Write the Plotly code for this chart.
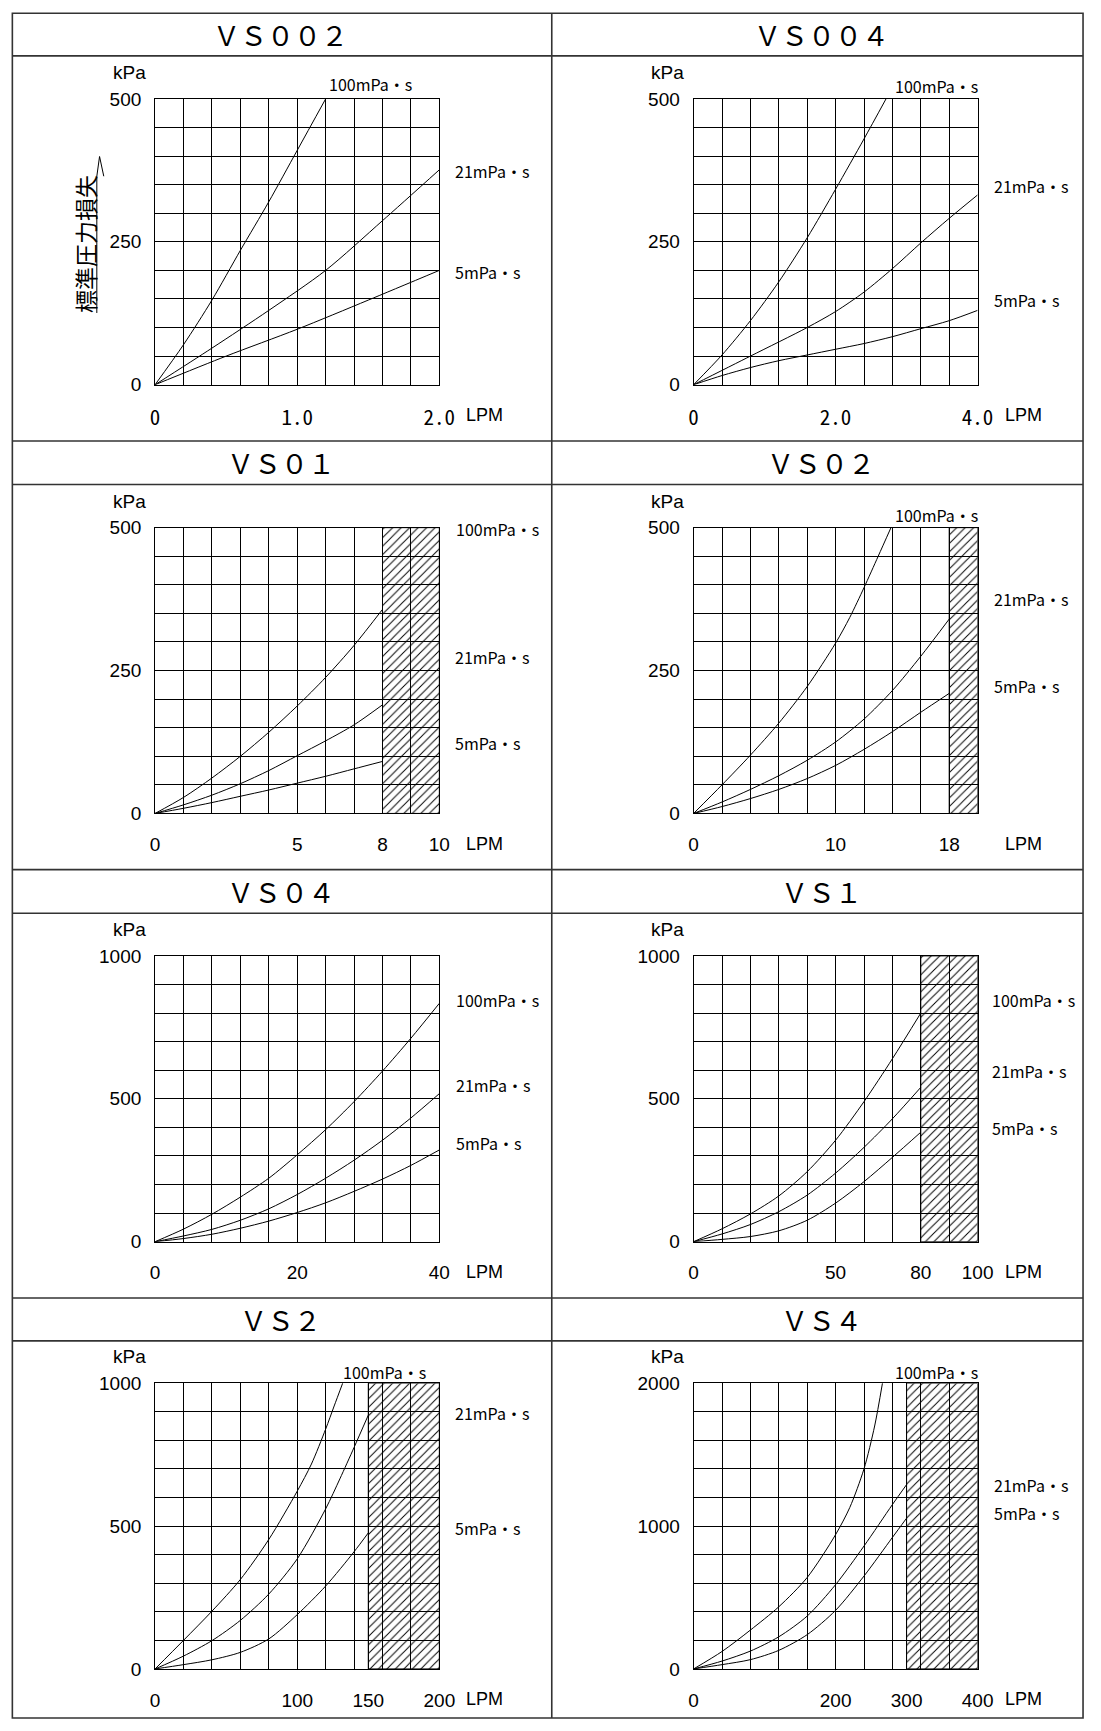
import plotly.graph_objects as go

W, H = 1101, 1731

# ---------------- data ----------------
titles = ["ＶＳ００２", "ＶＳ００４", "ＶＳ０１", "ＶＳ０２",
          "ＶＳ０４", "ＶＳ１", "ＶＳ２", "ＶＳ４"]
viscosity_labels = ["100mPa・s", "21mPa・s", "5mPa・s"]

x_max = [2.0, 4.0, 10, 20, 40, 100, 200, 400]
y_max = [500, 500, 500, 500, 1000, 1000, 1000, 2000]
x_tickvals = [[0, 1, 2], [0, 2, 4], [0, 5, 8, 10], [0, 10, 18],
              [0, 20, 40], [0, 50, 80, 100], [0, 100, 150, 200], [0, 200, 300, 400]]
x_ticktext = [["0", "1.0", "2.0"], ["0", "2.0", "4.0"], ["0", "5", "8", "10"], ["0", "10", "18"],
              ["0", "20", "40"], ["0", "50", "80", "100"], ["0", "100", "150", "200"],
              ["0", "200", "300", "400"]]
y_tickvals = [[0, 250, 500], [0, 250, 500], [0, 250, 500], [0, 250, 500],
              [0, 500, 1000], [0, 500, 1000], [0, 500, 1000], [0, 1000, 2000]]
hatch_from = [None, None, 8, 18, None, 80, 150, 300]

# VS002
vs002_q100 = [0, 0.2, 0.4, 0.6, 0.8, 1.0, 1.2]
vs002_p100 = [0, 70, 148, 235, 320, 410, 500]
vs002_q21 = [0, 0.4, 0.8, 1.2, 1.6, 2.0]
vs002_p21 = [0, 64, 130, 200, 287, 376]
vs002_q5 = [0, 0.5, 1.0, 1.5, 2.0]
vs002_p5 = [0, 50, 97, 148, 200]
# VS004
vs004_q100 = [0, 0.4, 0.8, 1.2, 1.6, 2.0, 2.4, 2.71]
vs004_p100 = [0, 52, 112, 180, 257, 342, 430, 500]
vs004_q21 = [0, 0.8, 1.6, 2.0, 2.4, 2.8, 3.2, 3.6, 4.0]
vs004_p21 = [0, 50, 100, 128, 162, 203, 248, 291, 332]
vs004_q5 = [0, 0.4, 0.8, 1.2, 1.6, 2.0, 2.4, 2.8, 3.2, 3.6, 4.0]
vs004_p5 = [0, 16, 30, 42, 52, 62, 72, 84, 98, 112, 130]
# VS01
vs01_q = [0, 1, 2, 3, 4, 5, 6, 7, 8]
vs01_p100 = [0, 28, 62, 100, 142, 188, 238, 294, 357]
vs01_p21 = [0, 15, 32, 52, 75, 101, 127, 155, 190]
vs01_p5 = [0, 9, 19, 30, 41, 53, 65, 78, 91]
# VS02
vs02_q100 = [0, 2, 4, 6, 8, 10, 11, 12, 13, 13.9]
vs02_p100 = [0, 50, 102, 158, 222, 298, 343, 395, 450, 500]
vs02_q = [0, 2, 4, 6, 8, 10, 12, 14, 16, 18]
vs02_p21 = [0, 20, 42, 66, 93, 125, 165, 215, 275, 340]
vs02_p5 = [0, 12, 26, 42, 61, 84, 112, 143, 177, 210]
# VS04
vs04_q = [0, 4, 8, 12, 16, 20, 24, 28, 32, 36, 40]
vs04_p100 = [0, 44, 96, 156, 222, 304, 392, 490, 597, 712, 834]
vs04_p21 = [0, 20, 43, 75, 115, 165, 222, 285, 355, 433, 518]
vs04_p5 = [0, 11, 26, 47, 72, 102, 136, 176, 219, 267, 321]
# VS1
vs1_q = [0, 10, 20, 30, 40, 50, 60, 70, 80]
vs1_p100 = [0, 45, 97, 160, 245, 355, 490, 640, 800]
vs1_p21 = [0, 27, 60, 105, 163, 240, 330, 430, 540]
vs1_p5 = [0, 8, 18, 38, 75, 135, 210, 295, 383]
# VS2
vs2_q100 = [0, 20, 40, 60, 80, 100, 110, 120, 126, 132]
vs2_p100 = [0, 100, 202, 313, 453, 622, 717, 839, 920, 1000]
vs2_q21 = [0, 20, 40, 60, 80, 100, 120, 130, 140, 150]
vs2_p21 = [0, 45, 99, 170, 262, 385, 560, 665, 775, 888]
vs2_q5 = [0, 20, 40, 60, 80, 100, 120, 140, 150]
vs2_p5 = [0, 15, 32, 58, 105, 190, 290, 410, 476]
# VS4
vs4_q100 = [0, 40, 80, 120, 160, 200, 220, 240, 255, 266]
vs4_p100 = [0, 122, 272, 435, 640, 940, 1130, 1400, 1700, 2000]
vs4_q = [0, 40, 80, 120, 160, 200, 240, 280, 300]
vs4_p21 = [0, 55, 125, 225, 370, 590, 860, 1150, 1290]
vs4_p5 = [0, 30, 65, 130, 240, 410, 650, 920, 1055]

curves = [
    [(vs002_q100, vs002_p100), (vs002_q21, vs002_p21), (vs002_q5, vs002_p5)],
    [(vs004_q100, vs004_p100), (vs004_q21, vs004_p21), (vs004_q5, vs004_p5)],
    [(vs01_q, vs01_p100), (vs01_q, vs01_p21), (vs01_q, vs01_p5)],
    [(vs02_q100, vs02_p100), (vs02_q, vs02_p21), (vs02_q, vs02_p5)],
    [(vs04_q, vs04_p100), (vs04_q, vs04_p21), (vs04_q, vs04_p5)],
    [(vs1_q, vs1_p100), (vs1_q, vs1_p21), (vs1_q, vs1_p5)],
    [(vs2_q100, vs2_p100), (vs2_q21, vs2_p21), (vs2_q5, vs2_p5)],
    [(vs4_q100, vs4_p100), (vs4_q, vs4_p21), (vs4_q, vs4_p5)],
]

# ---------------- layout geometry (pixels) ----------------
COL_PLOT = [(153.0, 442.8), (702.0, 991.5)]
PLOT_TOP = [90.0, 524.0, 957.5, 1390.0]
PLOT_H = 289.3
ROW_TOP = [3.3, 436.3, 870.2, 1303.8]
TITLE_X = [281.0, 832.0]
# curve label positions (left x, centre y) in pixels, per panel
LABEL_POS = [
    [(327.9, 75.0), (457.1, 163.3), (457.1, 265.0)],
    [(905.6, 76.7), (1006.0, 178.3), (1006.0, 293.3)],
    [(457.9, 525.0), (457.1, 655.0), (457.1, 741.7)],
    [(905.6, 511.0), (1006.0, 596.7), (1006.0, 684.0)],
    [(457.5, 1001.7), (457.5, 1088.3), (457.5, 1146.7)],
    [(1004.0, 1001.7), (1004.0, 1074.3), (1004.0, 1131.7)],
    [(342.1, 1378.3), (457.1, 1420.7), (457.1, 1536.7)],
    [(905.6, 1378.3), (1006.0, 1492.7), (1006.0, 1521.7)],
]


def px(x):
    return x / W


def py(y):
    return 1 - y / H


SANS = "Liberation Sans, Arial, sans-serif"
MONO = "Noto Sans Mono CJK JP, Liberation Mono, monospace"
CJK = "Noto Sans CJK JP, sans-serif"

fig = go.Figure()
layout = dict(
    width=W, height=H, autosize=False,
    margin=dict(l=0, r=0, t=0, b=0, pad=0),
    paper_bgcolor="white", plot_bgcolor="white",
    showlegend=False,
)
annotations = []
shapes = []

for i in range(8):
    r, c = divmod(i, 2)
    n = i + 1
    sfx = "" if n == 1 else str(n)
    x0, x1 = COL_PLOT[c]
    top = PLOT_TOP[r]
    bot = top + PLOT_H
    xm, ym = x_max[i], y_max[i]

    tickfont_x = dict(family=MONO if i < 2 else SANS, size=21 if i < 2 else 19, color="black")
    layout["xaxis" + sfx] = dict(
        domain=[px(x0), px(x1)], range=[0, xm], anchor="y" + sfx,
        tickmode="array", tickvals=x_tickvals[i], ticktext=x_ticktext[i],
        showgrid=True, gridcolor="black", gridwidth=1,
        minor=dict(tick0=0, dtick=xm / 10, showgrid=True, gridcolor="black", gridwidth=1),
        showline=True, mirror=True, linecolor="black", linewidth=1,
        zeroline=False, ticks="", ticklabelstandoff=14,
        tickfont=tickfont_x, fixedrange=True,
    )
    layout["yaxis" + sfx] = dict(
        domain=[py(bot), py(top)], range=[0, ym], anchor="x" + sfx,
        tickmode="array", tickvals=y_tickvals[i],
        ticktext=[str(v) for v in y_tickvals[i]],
        showgrid=True, gridcolor="black", gridwidth=1,
        minor=dict(tick0=0, dtick=ym / 10, showgrid=True, gridcolor="black", gridwidth=1),
        showline=True, mirror=True, linecolor="black", linewidth=1,
        zeroline=False, ticks="", ticklabelstandoff=9,
        tickfont=dict(family=SANS, size=19, color="black"), fixedrange=True,
    )

    # hatched range
    if hatch_from[i] is not None:
        h = hatch_from[i]
        fig.add_trace(go.Scatter(
            x=[h, xm, xm, h, h], y=[0, 0, ym, ym, 0],
            xaxis="x" + sfx, yaxis="y" + sfx,
            mode="lines", line=dict(color="black", width=1),
            fill="toself", fillcolor="rgba(0,0,0,0)",
            fillpattern=dict(shape="/", fgcolor="black", bgcolor="rgba(0,0,0,0)",
                             size=6, solidity=0.16, fillmode="replace"),
            hoverinfo="skip",
        ))

    for k, (q, p) in enumerate(curves[i]):
        fig.add_trace(go.Scatter(
            x=q, y=p, xaxis="x" + sfx, yaxis="y" + sfx,
            mode="lines", line=dict(color="black", width=1, shape="spline", smoothing=0.8),
            name=viscosity_labels[k], cliponaxis=True,
        ))
        lx, ly = LABEL_POS[i][k]
        annotations.append(dict(
            x=px(lx), y=py(ly), xref="paper", yref="paper",
            text=viscosity_labels[k], showarrow=False,
            xanchor="left", yanchor="middle",
            font=dict(family=CJK, size=16, color="black"),
        ))

    # panel title
    annotations.append(dict(
        x=px(TITLE_X[c]), y=py(ROW_TOP[r] + 22.0), xref="paper", yref="paper",
        text=titles[i], showarrow=False, xanchor="center", yanchor="middle",
        font=dict(family=CJK, size=27, color="black"),
    ))
    # unit labels
    annotations.append(dict(
        x=px(x0 - 26.5), y=py(top - 26.7), xref="paper", yref="paper",
        text="kPa", showarrow=False, xanchor="center", yanchor="middle",
        font=dict(family=SANS, size=19, color="black"),
    ))
    annotations.append(dict(
        x=px(x1 + 46.5), y=py(bot + 30.7), xref="paper", yref="paper",
        text="LPM", showarrow=False, xanchor="center", yanchor="middle",
        font=dict(family=SANS, size=18, color="black"),
    ))

# vertical axis caption on the first panel
annotations.append(dict(
    x=px(81.0), y=py(236.5), xref="paper", yref="paper",
    text="標準圧力損失", showarrow=False, textangle=-90,
    xanchor="center", yanchor="middle",
    font=dict(family=CJK, size=23, color="black"),
))
shapes.append(dict(
    type="path", xref="paper", yref="paper",
    path=(f"M {px(93.6)},{py(306.7)} L {px(93.6)},{py(168.3)} "
          f"L {px(96.4)},{py(148.3)} L {px(100.7)},{py(168.3)}"),
    line=dict(color="black", width=1),
))

# table frame
FRAME = dict(color="#333333", width=1.6)
shapes.append(dict(type="rect", xref="paper", yref="paper",
                   x0=px(7.5), x1=px(1099.0), y0=py(1729.0), y1=py(3.3), line=FRAME))
shapes.append(dict(type="line", xref="paper", yref="paper",
                   x0=px(557.4), x1=px(557.4), y0=py(1729.0), y1=py(3.3), line=FRAME))
for yl in [46.4, 436.3, 480.4, 870.2, 914.3, 1303.8, 1347.2]:
    shapes.append(dict(type="line", xref="paper", yref="paper",
                       x0=px(7.5), x1=px(1099.0), y0=py(yl), y1=py(yl), line=FRAME))

layout["annotations"] = annotations
layout["shapes"] = shapes
fig.update_layout(**layout)

PAGE_FIX = (
    "document.documentElement.style.margin='0';"
    "document.documentElement.style.overflow='hidden';"
    "document.body.style.margin='0';document.body.style.padding='0';"
    "document.body.style.overflow='hidden';"
    "var gd=document.getElementById('{plot_id}');"
    "gd.style.position='absolute';gd.style.left='0px';gd.style.top='0px';"
    "window.scrollTo(0,0);"
)
fig.write_html("out.html", post_script=PAGE_FIX,
               config={"displayModeBar": False, "responsive": False})
